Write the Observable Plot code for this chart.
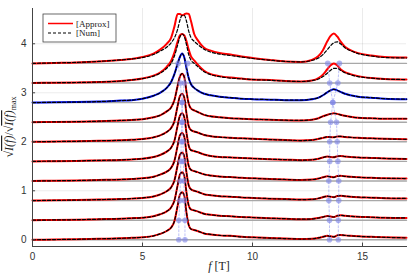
<!DOCTYPE html>
<html><head><meta charset="utf-8">
<script src="https://cdn.jsdelivr.net/npm/d3@7"></script>
<script src="https://cdn.jsdelivr.net/npm/@observablehq/plot@0.6"></script>
<style>body{margin:0;background:#fff} #chart{width:415px;height:277px}</style>
</head><body><div id="chart"></div>
<script>
// field grid f [T]
const f = [0,1,2,3,4,4.5,5,5.5,5.8,6.1,6.3,6.45,6.6,6.7,6.8,6.9,7.0,7.1,7.2,7.35,7.5,7.8,8.1,8.5,9,9.5,10,10.8,11.5,12.2,12.7,13.0,13.2,13.4,13.55,13.7,13.85,14.0,14.2,14.45,14.8,15.4,16,17];
// vertical offsets of the stacked traces
const offsets = [0,0.4,0.8,1.2,1.6,2.0,2.4,2.8,3.2,3.6];
const highlighted = 7; // blue trace
// |Approx| traces (height above each offset)
const approx0 = [0,0.005,0.01,0.02,0.03,0.04,0.05,0.08,0.12,0.18,0.25,0.38,0.7,0.92,0.97,0.9,0.55,0.3,0.22,0.2,0.18,0.13,0.11,0.09,0.08,0.06,0.05,0.035,0.025,0.015,0.02,0.04,0.06,0.08,0.07,0.06,0.09,0.1,0.09,0.08,0.07,0.06,0.05,0.04];
const approx1 = [0,0.005,0.01,0.02,0.03,0.04,0.05,0.08,0.12,0.18,0.26,0.4,0.72,0.93,0.98,0.9,0.56,0.3,0.22,0.2,0.18,0.13,0.11,0.09,0.08,0.065,0.055,0.04,0.03,0.02,0.025,0.045,0.065,0.085,0.075,0.065,0.09,0.1,0.09,0.08,0.07,0.06,0.05,0.045];
const approx2 = [0,0.005,0.01,0.02,0.03,0.04,0.055,0.085,0.125,0.19,0.27,0.41,0.73,0.93,0.98,0.9,0.57,0.31,0.23,0.2,0.18,0.13,0.11,0.09,0.08,0.065,0.055,0.04,0.03,0.02,0.025,0.045,0.07,0.09,0.08,0.07,0.095,0.1,0.09,0.08,0.07,0.06,0.05,0.045];
const approx3 = [0,0.005,0.01,0.02,0.03,0.04,0.055,0.085,0.13,0.19,0.27,0.41,0.73,0.93,0.98,0.9,0.57,0.31,0.23,0.2,0.18,0.135,0.11,0.09,0.08,0.065,0.055,0.04,0.03,0.02,0.028,0.05,0.075,0.095,0.085,0.075,0.1,0.105,0.095,0.085,0.075,0.065,0.055,0.05];
const approx4 = [0,0.005,0.01,0.02,0.03,0.04,0.055,0.09,0.13,0.2,0.28,0.42,0.74,0.93,0.98,0.9,0.58,0.32,0.23,0.21,0.19,0.14,0.11,0.09,0.08,0.07,0.06,0.045,0.035,0.025,0.032,0.055,0.08,0.1,0.09,0.085,0.105,0.11,0.1,0.09,0.08,0.07,0.06,0.05];
const approx5 = [0,0.005,0.01,0.02,0.03,0.04,0.055,0.09,0.13,0.2,0.28,0.42,0.74,0.93,0.98,0.9,0.58,0.32,0.24,0.21,0.19,0.14,0.115,0.095,0.08,0.07,0.06,0.045,0.035,0.025,0.035,0.06,0.08,0.1,0.095,0.09,0.11,0.11,0.1,0.09,0.08,0.07,0.06,0.05];
const approx6 = [0,0.005,0.01,0.02,0.035,0.045,0.06,0.1,0.14,0.22,0.3,0.45,0.75,0.93,0.99,0.92,0.62,0.38,0.28,0.24,0.21,0.15,0.12,0.1,0.08,0.07,0.06,0.05,0.04,0.035,0.05,0.08,0.12,0.15,0.17,0.18,0.17,0.15,0.13,0.11,0.09,0.08,0.07,0.07];
const approx7 = [0,0.005,0.01,0.02,0.04,0.05,0.08,0.14,0.2,0.3,0.42,0.58,0.8,0.93,1.0,0.92,0.7,0.5,0.38,0.3,0.25,0.18,0.15,0.12,0.1,0.08,0.07,0.06,0.05,0.05,0.07,0.1,0.15,0.21,0.25,0.27,0.25,0.22,0.18,0.15,0.12,0.1,0.08,0.07];
const approx8 = [0,0.005,0.01,0.02,0.04,0.06,0.09,0.15,0.21,0.33,0.45,0.62,0.85,0.97,1.0,0.97,0.85,0.68,0.55,0.46,0.38,0.25,0.18,0.14,0.11,0.09,0.07,0.06,0.04,0.03,0.05,0.1,0.17,0.28,0.36,0.4,0.36,0.28,0.22,0.18,0.14,0.1,0.08,0.07];
const approx9 = [0,0.01,0.02,0.04,0.07,0.09,0.13,0.2,0.28,0.4,0.52,0.75,1.01,1.01,0.98,1.0,1.02,1.01,0.87,0.6,0.48,0.32,0.26,0.21,0.18,0.14,0.11,0.07,0.04,0.03,0.07,0.15,0.27,0.45,0.56,0.61,0.55,0.45,0.34,0.27,0.21,0.16,0.13,0.12];
// |Num| traces (identical to |Approx| for the lower ones)
const num8 = [0,0.005,0.01,0.02,0.04,0.06,0.09,0.14,0.2,0.3,0.4,0.55,0.78,0.94,1.0,0.95,0.78,0.58,0.47,0.4,0.34,0.23,0.17,0.13,0.1,0.085,0.07,0.055,0.04,0.03,0.05,0.08,0.13,0.2,0.26,0.3,0.3,0.26,0.21,0.17,0.13,0.1,0.08,0.07];
const num9 = [0,0.01,0.02,0.04,0.07,0.09,0.12,0.18,0.25,0.33,0.42,0.52,0.7,0.88,0.98,0.98,0.86,0.66,0.53,0.45,0.39,0.29,0.23,0.19,0.16,0.13,0.1,0.065,0.04,0.03,0.06,0.11,0.18,0.28,0.36,0.42,0.44,0.4,0.32,0.26,0.2,0.15,0.12,0.11];
// resonance positions (dots) at each offset
const mainLeft  = [6.65,6.65,6.7,6.72,6.74,6.76,6.78,6.8,6.72,6.62];
const mainRight = [6.93,6.93,6.9,6.88,6.86,6.84,6.82,6.8,6.9,7.05];
const highLeft  = [13.5,13.5,13.47,13.47,13.51,13.51,13.55,13.65,13.51,13.42];
const highRight = [13.9,13.9,13.92,13.92,13.88,13.85,13.82,13.65,13.88,13.95];
const xTicks = [0,5,10,15];
const yTicks = [0,1,2,3,4];
const xDomain = [0,17];
const yDomain = [-0.137,4.72];

const approxAll = [approx0,approx1,approx2,approx3,approx4,approx5,approx6,approx7,approx8,approx9];
const numAll = [approx0,approx1,approx2,approx3,approx4,approx5,approx6,approx7,num8,num9];
const toRows = (arrs) => arrs.flatMap((arr,i)=>arr.map((v,j)=>({s:i, f:f[j], y:offsets[i]+v})));
const approxRows = toRows(approxAll);
const numRows = toRows(numAll);
const baseRows = offsets.flatMap((o,i)=>xDomain.map(x=>({s:i,f:x,y:o})));
const branch = (arr,name)=>arr.map((x,i)=>({b:name,f:x,y:offsets[i]}));
const dots = [...branch(mainLeft,"ml"),...branch(mainRight,"mr"),...branch(highLeft,"hl"),...branch(highRight,"hr")];

const font = "'Liberation Sans', 'DejaVu Sans', sans-serif";
const chart = Plot.plot({
  width: 415, height: 277,
  marginLeft: 32, marginRight: 9, marginTop: 8, marginBottom: 31,
  style: {fontFamily: font, fontSize: "10px", color: "#333", background: "white"},
  x: {domain: xDomain},
  y: {domain: yDomain},
  marks: [
    Plot.gridX(xTicks, {stroke:"#000", strokeOpacity:0.08}),
    Plot.gridY(yTicks, {stroke:"#000", strokeOpacity:0.08}),
    Plot.line(baseRows, {x:"f", y:"y", z:"s", stroke:"#a8a8a8", strokeWidth:1.4}),
    Plot.line(approxRows.filter(d=>d.s!==highlighted), {x:"f", y:"y", z:"s", stroke:"#ff0000", strokeWidth:2, curve:"monotone-x"}),
    Plot.line(approxRows.filter(d=>d.s===highlighted), {x:"f", y:"y", z:"s", stroke:"#0010f0", strokeWidth:2, curve:"monotone-x"}),
    Plot.line(numRows, {x:"f", y:"y", z:"s", stroke:"#000", strokeWidth:1.2, strokeDasharray:"3,2", curve:"monotone-x"}),
    Plot.line(dots, {x:"f", y:"y", z:"b", stroke:"#8890f0", strokeOpacity:0.55, strokeWidth:1, strokeDasharray:"2,2"}),
    Plot.dot(dots, {x:"f", y:"y", r:2.8, fill:"#7d84e6", fillOpacity:0.6}),
    Plot.frame({anchor:"left", stroke:"#444"}),
    Plot.frame({anchor:"bottom", stroke:"#444"}),
    Plot.axisX(xTicks, {tickSize:0, tickPadding:6, label:null, fontSize:10}),
    Plot.axisY(yTicks, {tickSize:0, tickPadding:6, label:null, fontSize:10}),
    Plot.ruleX(xTicks, {y1: yDomain[0], y2: yDomain[0] + 0.07, stroke:"#444"}),
    Plot.ruleY(yTicks, {x1: xDomain[0], x2: xDomain[0] + 0.14, stroke:"#444"}),
  ]
});
document.getElementById("chart").appendChild(chart);

const svg = d3.select(chart);
// axis labels
const serif = "'Liberation Serif','DejaVu Serif',serif";
const xl = svg.append("text").attr("x", 219).attr("y", 270).attr("text-anchor","middle")
  .attr("font-family", serif).attr("font-size", 12).attr("fill","#222");
xl.append("tspan").attr("font-style","italic").text("f");
xl.append("tspan").text(" [T]");
const yl = svg.append("text").attr("transform","translate(13,127) rotate(-90)").attr("text-anchor","middle")
  .attr("font-family", serif).attr("font-size", 12).attr("fill","#222");
yl.append("tspan").text("√");
yl.append("tspan").attr("text-decoration","overline").attr("font-style","italic").text("I(f)");
yl.append("tspan").text("/√");
yl.append("tspan").attr("text-decoration","overline").attr("font-style","italic").text("I(f)");
yl.append("tspan").attr("font-size",8).attr("dy",3).text("max");
// legend
const lg = svg.append("g");
lg.append("rect").attr("x",43).attr("y",14).attr("width",73).attr("height",28).attr("fill","white").attr("stroke","#444").attr("stroke-width",0.8);
lg.append("line").attr("x1",48).attr("x2",73).attr("y1",23.5).attr("y2",23.5).attr("stroke","#ff0000").attr("stroke-width",1.5);
lg.append("line").attr("x1",48).attr("x2",73).attr("y1",33).attr("y2",33).attr("stroke","#000").attr("stroke-width",1.2).attr("stroke-dasharray","3,2");
lg.append("text").attr("x",76).attr("y",26.5).attr("text-anchor","start").attr("font-family",serif).attr("font-size",9).attr("fill","#222").text("[Approx]");
lg.append("text").attr("x",76).attr("y",36).attr("text-anchor","start").attr("font-family",serif).attr("font-size",9).attr("fill","#222").text("[Num]");
</script>
</body></html>
